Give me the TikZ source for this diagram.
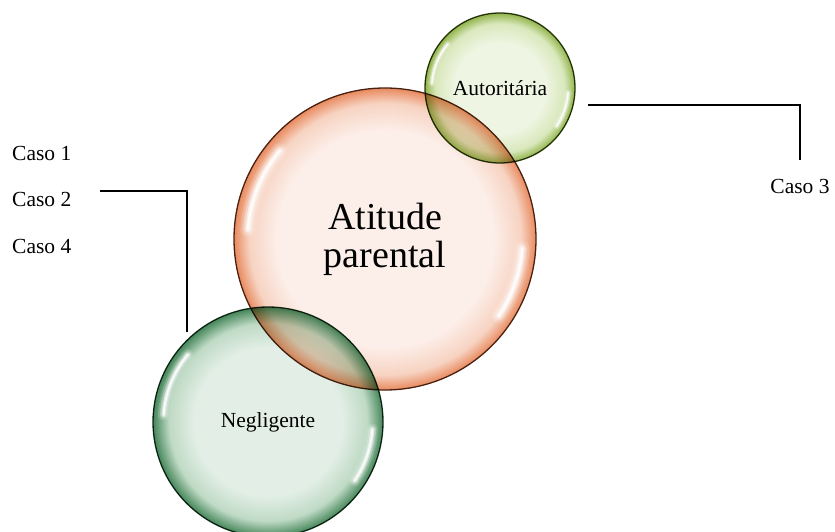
\documentclass[tikz,border=0pt]{standalone}
\usepackage{fontspec}
\setmainfont{Liberation Serif}

% bubble palettes: interior, mid tone, rim
\definecolor{orIn}{HTML}{FCEEE8}
\definecolor{orMid}{HTML}{F7D3C2}
\definecolor{orRim}{HTML}{E88A5E}
\definecolor{orLine}{HTML}{4A2010}
\definecolor{ygIn}{HTML}{EFF5E3}
\definecolor{ygMid}{HTML}{D9E8BC}
\definecolor{ygRim}{HTML}{92B44C}
\definecolor{ygLine}{HTML}{2E3C0C}
\definecolor{dgIn}{HTML}{E3EFE6}
\definecolor{dgMid}{HTML}{BFDAC5}
\definecolor{dgRim}{HTML}{45865A}
\definecolor{dgLine}{HTML}{163320}

% radial shadings: 25bp is the rim of the circle
\pgfdeclareradialshading{orangebub}{\pgfpoint{0bp}{0bp}}{color(0bp)=(orIn); color(18bp)=(orIn); color(22.5bp)=(orMid); color(25bp)=(orRim); color(50bp)=(orRim)}
\pgfdeclareradialshading{yellowbub}{\pgfpoint{0bp}{0bp}}{color(0bp)=(ygIn); color(15bp)=(ygIn); color(21.5bp)=(ygMid); color(25bp)=(ygRim); color(50bp)=(ygRim)}
\pgfdeclareradialshading{greenbub}{\pgfpoint{0bp}{0bp}}{color(0bp)=(dgIn); color(16bp)=(dgIn); color(21.5bp)=(dgMid); color(25bp)=(dgRim); color(50bp)=(dgRim)}

\tikzset{
  bubble/.style={circle, inner sep=0pt, line width=1.3pt, align=center},
  smalllabel/.style={font=\fontsize{21.5}{26}\selectfont},
  caselabel/.style={font=\fontsize{21.5}{26}\selectfont, inner sep=0pt},
  link/.style={line width=2pt, black},
}

% glossy white reflections on the left and lower right of a bubble
\newcommand\bubblegloss[2]{%
  \foreach \w/\o in {0.10/0.15, 0.065/0.3, 0.035/0.55, 0.015/0.8} {
    \draw[white, line cap=round, line width={\w*#2 pt}, opacity=\o]
      (#1) ++(140:{0.91*#2 pt}) arc[start angle=140, end angle=176, radius={0.91*#2 pt}];
    \draw[white, line cap=round, line width={\w*#2 pt}, opacity=\o]
      (#1) ++(-4:{0.91*#2 pt}) arc[start angle=-4, end angle=-34, radius={0.91*#2 pt}];
  }}

\begin{document}
\begin{tikzpicture}[x=1pt,y=1pt]
\useasboundingbox (0,0) rectangle (835,531);
\clip (0,0) rectangle (835,531);

% central bubble
\node[bubble, draw=orLine, shading=orangebub, minimum size=302pt,
      font=\fontsize{38}{40}\selectfont] (atitude) at (385,292) {Atitude\\[-2pt]parental};
\bubblegloss{atitude.center}{151}

% side bubbles, multiplied over the central one
\begin{scope}[blend mode=multiply]
\node[bubble, draw=ygLine, shading=yellowbub,
      minimum size=150pt, smalllabel] (autor) at (500,443) {Autoritária};
\node[bubble, draw=dgLine, shading=greenbub,
      minimum size=230pt, smalllabel] (neglig) at (268,109) {Negligente};
\end{scope}
\bubblegloss{autor.center}{75}
\bubblegloss{neglig.center}{115}

% case labels
\node[caselabel, anchor=west] (caso1) at (12,378) {Caso 1};
\node[caselabel, anchor=west] (caso2) at (12,332) {Caso 2};
\node[caselabel, anchor=west] (caso4) at (12,285) {Caso 4};
\node[caselabel] (caso3) at (800,345) {Caso 3};

% connectors
\coordinate (lstart) at (100,340);
\coordinate (lend) at (187,199);
\coordinate (rstart) at (588,426);
\coordinate (rend) at (800,371);
\draw[link] (lstart) -| (lend);
\draw[link] (rstart) -| (rend);
\end{tikzpicture}
\end{document}
